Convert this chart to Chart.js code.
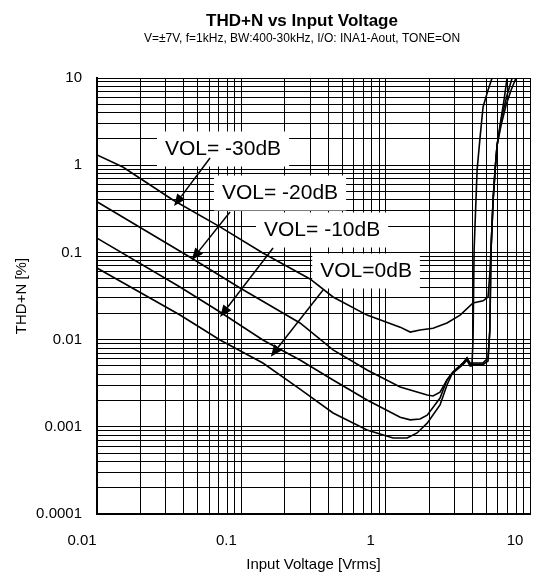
<!DOCTYPE html>
<html>
<head>
<meta charset="utf-8">
<title>THD+N vs Input Voltage</title>
<script src="https://cdn.jsdelivr.net/npm/chart.js@4.4.1/dist/chart.umd.min.js"></script>
<style>
  html, body { margin: 0; padding: 0; background: #fff; }
</style>
</head>
<body>
<canvas id="thdChart" width="549" height="577"></canvas>
<script>
// THD+N vs input voltage, log-log, four volume settings
var chartTitle = 'THD+N vs Input Voltage';
var chartSubtitle = 'V=\u00b17V, f=1kHz, BW:400-30kHz, I/O: INA1-Aout, TONE=ON';
var xTitle = 'Input Voltage [Vrms]';
var yTitle = 'THD+N [%]';
var xTickLabels = ['0.01', '0.1', '1', '10'];
var yTickLabels = ['0.0001', '0.001', '0.01', '0.1', '1', '10'];
var seriesNames = ['VOL= -30dB', 'VOL= -20dB', 'VOL= -10dB', 'VOL=0dB'];

var vol30X = [0.01, 0.0151, 0.0336, 0.0712, 0.141, 0.299, 0.432, 0.743, 1.26, 1.48, 1.73, 2.13, 2.66, 3.28, 4.03, 4.73, 5.12, 5.27, 5.37, 5.55, 5.73, 5.92, 6.31, 6.83, 7.4, 8.01];
var vol30Y = [1.31, 0.953, 0.399, 0.196, 0.0984, 0.0496, 0.0308, 0.0191, 0.0139, 0.0122, 0.0129, 0.0135, 0.0155, 0.0191, 0.0263, 0.0278, 0.0308, 0.058, 0.107, 0.399, 0.88, 1.71, 2.89, 4.9, 7.3, 10];

var vol20X = [0.01, 0.0439, 0.098, 0.255, 0.432, 0.743, 1.26, 1.94, 2.13, 2.38, 2.66, 2.93, 3.44, 3.66, 3.84, 4.73, 5.12, 5.27, 5.37, 5.55, 5.73, 5.92, 6.2, 6.61, 6.94];
var vol20Y = [0.381, 0.0886, 0.0391, 0.0155, 0.00761, 0.00448, 0.00286, 0.00232, 0.00226, 0.0025, 0.00344, 0.00425, 0.0054, 0.00615, 0.0054, 0.0054, 0.00615, 0.0129, 0.107, 0.399, 0.88, 1.71, 2.89, 5.6, 10];

var vol10X = [0.01, 0.0376, 0.0712, 0.141, 0.255, 0.432, 0.743, 1.26, 1.48, 1.73, 1.94, 2.38, 2.66, 2.93, 3.44, 3.66, 3.84, 4.73, 5.12, 5.27, 5.37, 5.55, 5.73, 5.92, 6.41, 6.94, 7.52];
var vol10Y = [0.146, 0.0401, 0.0207, 0.00989, 0.00584, 0.00344, 0.00203, 0.00129, 0.0012, 0.00123, 0.00136, 0.00214, 0.00344, 0.00425, 0.0054, 0.00615, 0.0052, 0.0052, 0.00568, 0.0129, 0.107, 0.399, 0.88, 1.71, 3.77, 6.38, 10];

var vol0X = [0.01, 0.0376, 0.0712, 0.141, 0.255, 0.432, 0.743, 1.125, 1.41, 1.65, 1.94, 2.38, 2.66, 2.88, 3.44, 3.66, 3.84, 3.96, 4.03, 4.1, 4.3, 4.51, 4.73, 5.12, 5.46];
var vol0Y = [0.0662, 0.01915, 0.00989, 0.00539, 0.00271, 0.00144, 0.00092, 0.000744, 0.000744, 0.00085, 0.0011, 0.00178, 0.00302, 0.00403, 0.0052, 0.0058, 0.005, 0.005, 0.0099, 0.107, 0.88, 2.1, 4.65, 7.3, 10];

// callout labels and arrows, in data units
var labelX = [0.0747, 0.1854, 0.3627, 0.7314];
var labelY = [1.575, 0.493, 0.1855, 0.0628];
var arrowFromX = [0.0607, 0.0835, 0.1659, 0.3683];
var arrowFromY = [1.209, 0.2906, 0.1123, 0.03706];
var arrowToX = [0.0342, 0.0453, 0.0712, 0.1599];
var arrowToY = [0.3404, 0.0818, 0.01816, 0.00637];

var FONT = '"Liberation Sans", Arial, sans-serif';

function toPoints(xs, ys) {
  return xs.map(function (x, i) { return { x: x, y: ys[i] }; });
}

// 1..9 x 10^n ticks for each decade
function decadeTicks(e0, e1) {
  var t = [];
  for (var e = e0; e < e1; e++) {
    for (var k = 1; k < 10; k++) t.push({ value: k * Math.pow(10, e) });
  }
  t.push({ value: Math.pow(10, e1) });
  return t;
}

function decadeLabel(labels, e0) {
  return function (value) {
    var l = Math.log10(value);
    var r = Math.round(l);
    if (Math.abs(l - r) > 1e-6) return '';
    return labels[r - e0] || '';
  };
}

function toPx(chart, xv, yv) {
  return [chart.scales.x.getPixelForValue(xv), chart.scales.y.getPixelForValue(yv)];
}

var titlePlugin = {
  id: 'titles',
  afterDraw: function (chart) {
    var ctx = chart.ctx;
    ctx.save();
    ctx.fillStyle = '#000';
    ctx.textAlign = 'center';
    ctx.textBaseline = 'middle';
    ctx.font = 'bold 17px ' + FONT;
    ctx.fillText(chartTitle, 302, 21);
    ctx.font = '12px ' + FONT;
    ctx.fillText(chartSubtitle, 302, 39);
    ctx.restore();
  }
};

var calloutPlugin = {
  id: 'callouts',
  beforeDatasetsDraw: function (chart) {
    var ctx = chart.ctx;
    ctx.save();
    ctx.font = '21px ' + FONT;
    ctx.textAlign = 'center';
    ctx.textBaseline = 'middle';
    for (var i = 0; i < seriesNames.length; i++) {
      var p = toPx(chart, labelX[i], labelY[i]);
      var w = ctx.measureText(seriesNames[i]).width + 16;
      var h = 35;
      ctx.fillStyle = '#fff';
      ctx.fillRect(p[0] - w / 2, p[1] - h / 2 + 1, w, h);
      ctx.fillStyle = '#000';
      ctx.fillText(seriesNames[i], p[0], p[1] + 1);
    }
    ctx.restore();
  },
  afterDatasetsDraw: function (chart) {
    var ctx = chart.ctx;
    ctx.save();
    ctx.strokeStyle = '#000';
    ctx.fillStyle = '#000';
    ctx.lineWidth = 1.5;
    for (var i = 0; i < arrowToX.length; i++) {
      var a = toPx(chart, arrowFromX[i], arrowFromY[i]);
      var b = toPx(chart, arrowToX[i], arrowToY[i]);
      var ang = Math.atan2(b[1] - a[1], b[0] - a[0]);
      var len = 12, hw = 5;
      var bx = b[0] - len * Math.cos(ang), by = b[1] - len * Math.sin(ang);
      ctx.beginPath();
      ctx.moveTo(a[0], a[1]);
      ctx.lineTo(bx, by);
      ctx.stroke();
      ctx.beginPath();
      ctx.moveTo(b[0], b[1]);
      ctx.lineTo(bx + hw * Math.sin(ang), by - hw * Math.cos(ang));
      ctx.lineTo(bx - hw * Math.sin(ang), by + hw * Math.cos(ang));
      ctx.closePath();
      ctx.fill();
    }
    ctx.restore();
  }
};

function curve(label, xs, ys) {
  return {
    label: label,
    data: toPoints(xs, ys),
    borderColor: '#000',
    borderWidth: 1.6,
    pointRadius: 0,
    tension: 0,
    fill: false
  };
}

new Chart(document.getElementById('thdChart').getContext('2d'), {
  type: 'line',
  data: {
    datasets: [
      curve(seriesNames[0], vol30X, vol30Y),
      curve(seriesNames[1], vol20X, vol20Y),
      curve(seriesNames[2], vol10X, vol10Y),
      curve(seriesNames[3], vol0X, vol0Y)
    ]
  },
  options: {
    responsive: false,
    animation: false,
    layout: { padding: { top: 78, right: 19, bottom: 0, left: 0 } },
    plugins: {
      legend: { display: false },
      tooltip: { enabled: false },
      title: { display: false }
    },
    scales: {
      x: {
        type: 'logarithmic',
        min: 0.01,
        max: 10,
        afterBuildTicks: function (scale) { scale.ticks = decadeTicks(-2, 1); },
        afterFit: function (scale) {
          scale.height = 63;
          scale.paddingLeft = 0;
          scale.paddingRight = 0;
        },
        grid: { color: '#000', lineWidth: 1, drawTicks: false },
        border: { color: '#000', width: 2 },
        ticks: {
          autoSkip: false,
          maxRotation: 0,
          padding: 18,
          labelOffset: -15,
          color: '#000',
          font: { family: FONT, size: 15 },
          callback: decadeLabel(xTickLabels, -2)
        },
        title: {
          display: true,
          text: xTitle,
          color: '#000',
          font: { family: FONT, size: 15 },
          padding: { top: 0, bottom: 3 }
        }
      },
      y: {
        type: 'logarithmic',
        min: 0.0001,
        max: 10,
        afterBuildTicks: function (scale) { scale.ticks = decadeTicks(-4, 1); },
        afterFit: function (scale) { scale.width = 97; },
        grid: { color: '#000', lineWidth: 1, drawTicks: false },
        border: { color: '#000', width: 2 },
        ticks: {
          autoSkip: false,
          padding: 15,
          color: '#000',
          font: { family: FONT, size: 15 },
          callback: decadeLabel(yTickLabels, -4)
        },
        title: {
          display: true,
          text: yTitle,
          color: '#000',
          font: { family: FONT, size: 15 },
          padding: { top: 13, bottom: 0 }
        }
      }
    }
  },
  plugins: [titlePlugin, calloutPlugin]
});
</script>
</body>
</html>
